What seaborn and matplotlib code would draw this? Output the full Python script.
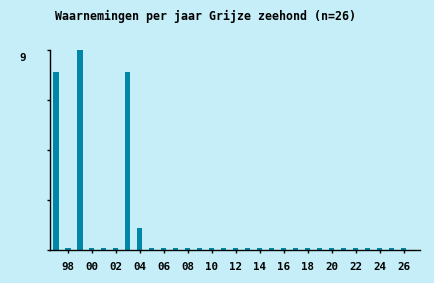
import matplotlib
matplotlib.use("Agg")
import matplotlib.pyplot as plt
import matplotlib.transforms as mtransforms
import seaborn as sns
import pandas as pd

years = list(range(1997, 2027))
counts = [8, 0, 9, 0, 0, 0, 8, 1] + [0] * 22
tick_years = list(range(1998, 2027, 2))
tick_labels = [f"{y % 100:02d}" for y in tick_years]

bg = "#C6EEF8"
bar_color = "#0087A8"

sns.set_style("ticks")
plt.rcParams["font.family"] = ["DejaVu Sans Mono"]
plt.rcParams["font.weight"] = "bold"

# zero years are shown as small stubs on the baseline
display = [c if c > 0 else 0.08 for c in counts]
df = pd.DataFrame({"year": years, "count": display})

fig = plt.figure(figsize=(4.35, 2.83), dpi=100, facecolor=bg)
ax = fig.add_axes([50 / 435, 1 - 250 / 283, 370 / 435, 200 / 283], facecolor=bg)
sns.barplot(data=df, x="year", y="count", native_scale=True, color=bar_color,
            width=0.42, saturation=1, edgecolor="none", linewidth=0, ax=ax)

ax.set_xlim(1996.5, 2027.35)
ax.set_ylim(0, 9)
ax.set_yticks([0, 2.25, 4.5, 6.75, 9])
ax.set_yticklabels(["", "", "", "", "9"])
ax.set_xticks(tick_years)
ax.set_xticklabels(tick_labels)
ax.set_xlabel("")
ax.set_ylabel("")
ax.tick_params(axis="y", length=2.5, width=1, pad=15, labelsize=7.8, colors="black")
ax.tick_params(axis="x", length=2.5, width=1, pad=6.5, labelsize=7.8, colors="black")
offset = mtransforms.ScaledTranslation(0, -7 / 100, fig.dpi_scale_trans)
for lbl in ax.get_yticklabels():
    lbl.set_transform(lbl.get_transform() + offset)
for s in ["top", "right"]:
    ax.spines[s].set_visible(False)
for s in ["left", "bottom"]:
    ax.spines[s].set_color("black")
    ax.spines[s].set_linewidth(1)

fig.text(206 / 435, 1 - 16 / 283, "Waarnemingen per jaar Grijze zeehond (n=26)",
         ha="center", va="center", fontsize=8.4, fontweight="bold", color="black")

fig.savefig("out.png", dpi=100, facecolor=bg)
